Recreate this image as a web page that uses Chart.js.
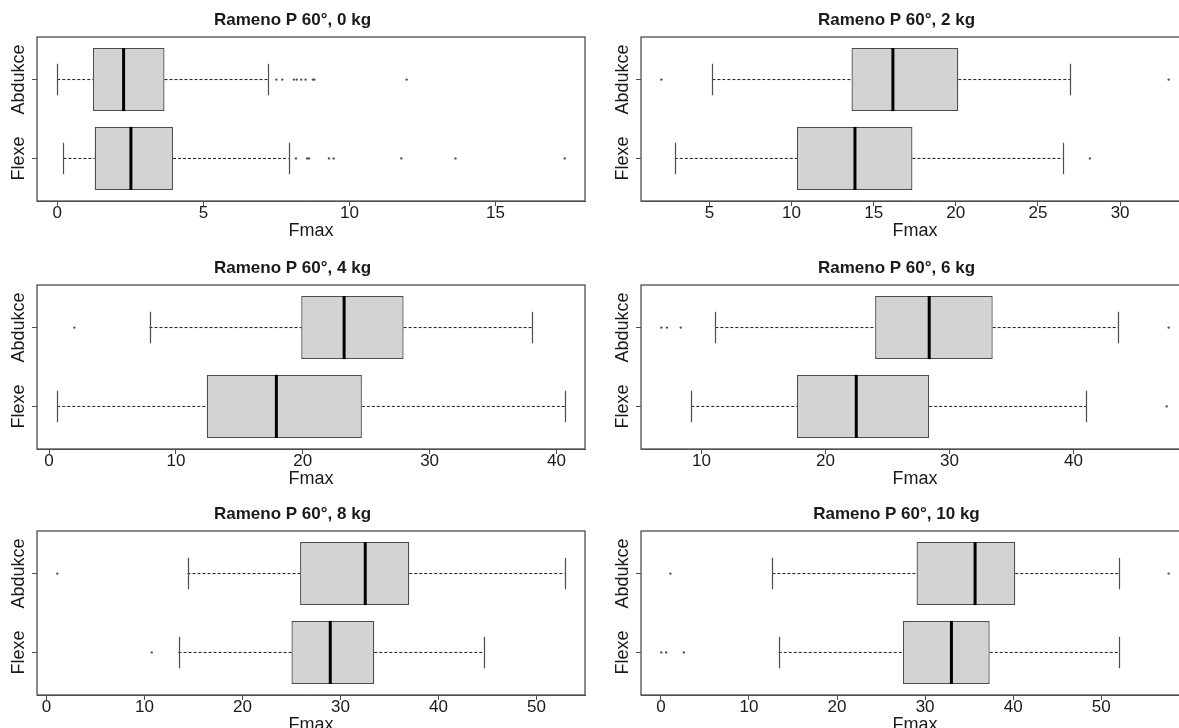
<!DOCTYPE html>
<html lang="cs">
<head>
<meta charset="UTF-8">
<title>Rameno P 60°</title>
<script src="https://cdn.jsdelivr.net/npm/chart.js@4.4.1/dist/chart.umd.min.js"></script>
<style>
  html, body { margin: 0; padding: 0; background: #fff; width: 1179px; height: 728px; overflow: hidden; }
  .panel { position: absolute; width: 590px; height: 246px; }
</style>
</head>
<body>
<div class="panel" style="left:0;top:0"><canvas id="c0" width="590" height="246"></canvas></div>
<div class="panel" style="left:604px;top:0"><canvas id="c1" width="590" height="246"></canvas></div>
<div class="panel" style="left:0;top:248px"><canvas id="c2" width="590" height="246"></canvas></div>
<div class="panel" style="left:604px;top:248px"><canvas id="c3" width="590" height="246"></canvas></div>
<div class="panel" style="left:0;top:494px"><canvas id="c4" width="590" height="246"></canvas></div>
<div class="panel" style="left:604px;top:494px"><canvas id="c5" width="590" height="246"></canvas></div>

<script>
// data: one entry per panel, inner pairs = [Abdukce, Flexe]
const titles = ['Rameno P 60°, 0 kg', 'Rameno P 60°, 2 kg', 'Rameno P 60°, 4 kg',
                'Rameno P 60°, 6 kg', 'Rameno P 60°, 8 kg', 'Rameno P 60°, 10 kg'];
const groups = ['Abdukce', 'Flexe'];

const whiskerLow  = [[0.0, 0.21], [5.18, 2.89], [7.92, 0.65], [11.12, 9.18], [14.4, 13.48], [12.66, 13.38]];
const q1          = [[1.22, 1.28], [13.65, 10.33], [19.88, 12.43], [24.0, 17.7], [25.88, 25.0], [29.03, 27.49]];
const medians     = [[2.27, 2.52], [16.17, 13.86], [23.26, 17.92], [28.36, 22.48], [32.53, 28.96], [35.68, 32.99]];
const q3          = [[3.67, 3.96], [20.15, 17.36], [27.95, 24.66], [33.48, 28.36], [37.02, 33.45], [40.24, 37.34]];
const whiskerHigh = [[7.22, 7.92], [26.97, 26.51], [38.07, 40.65], [43.58, 41.03], [52.88, 44.66], [52.05, 52.05]];
const outliers = [
  [[7.5, 7.7, 8.1, 8.2, 8.35, 8.5, 8.75, 8.8, 11.96], [8.17, 8.55, 8.62, 9.3, 9.46, 11.78, 13.63, 17.37]],
  [[2.07, 32.96], [28.16]],
  [[1.99], []],
  [[6.76, 7.21, 8.33, 47.67], [47.5]],
  [[1.11], [10.75]],
  [[1.07, 57.67], [0.04, 0.6, 2.6]]
];
const tickValues = [[0, 5, 10, 15], [5, 10, 15, 20, 25, 30], [0, 10, 20, 30, 40],
                    [10, 20, 30, 40], [0, 10, 20, 30, 40, 50], [0, 10, 20, 30, 40, 50]];

const FONT = "'Liberation Sans', Arial, sans-serif";
const INK = '#1a1a1a';
const LINE = '#4d4d4d';

// whiskers, caps, medians, outliers, frame and rotated group names, all via the chart scales
const rBoxPlugin = {
  id: 'rbox',
  afterDatasetsDraw(chart) {
    const p = chart.options.plugins.rbox.panel;
    const { ctx, chartArea: a, scales: { x, y } } = chart;
    ctx.save();
    groups.forEach((g, i) => {
      const pos = i + 1;
      const cy = y.getPixelForValue(pos);
      const capT = y.getPixelForValue(pos - 0.2), capB = y.getPixelForValue(pos + 0.2);
      const boxT = y.getPixelForValue(pos - 0.4), boxB = y.getPixelForValue(pos + 0.4);
      // dashed whiskers
      ctx.strokeStyle = INK;
      ctx.lineWidth = 1;
      ctx.setLineDash([3, 2]);
      ctx.beginPath();
      ctx.moveTo(x.getPixelForValue(whiskerLow[p][i]), cy);
      ctx.lineTo(x.getPixelForValue(q1[p][i]), cy);
      ctx.moveTo(x.getPixelForValue(q3[p][i]), cy);
      ctx.lineTo(x.getPixelForValue(whiskerHigh[p][i]), cy);
      ctx.stroke();
      ctx.setLineDash([]);
      // staples
      ctx.strokeStyle = LINE;
      ctx.lineWidth = 1.2;
      ctx.beginPath();
      [whiskerLow[p][i], whiskerHigh[p][i]].forEach(v => {
        const px = Math.round(x.getPixelForValue(v)) + 0.5;
        ctx.moveTo(px, capT);
        ctx.lineTo(px, capB);
      });
      ctx.stroke();
      // median
      ctx.strokeStyle = '#000';
      ctx.lineWidth = 3;
      ctx.beginPath();
      const mx = x.getPixelForValue(medians[p][i]);
      ctx.moveTo(mx, boxT);
      ctx.lineTo(mx, boxB);
      ctx.stroke();
      // outliers
      ctx.fillStyle = '#555';
      outliers[p][i].forEach(v => {
        ctx.beginPath();
        ctx.arc(x.getPixelForValue(v), cy, 1.2, 0, Math.PI * 2);
        ctx.fill();
      });
      // rotated group label
      ctx.save();
      ctx.translate(a.left - 18, cy);
      ctx.rotate(-Math.PI / 2);
      ctx.fillStyle = INK;
      ctx.font = '18px ' + FONT;
      ctx.textAlign = 'center';
      ctx.textBaseline = 'middle';
      ctx.fillText(g, 0, 0);
      ctx.restore();
    });
    // plot frame
    ctx.strokeStyle = LINE;
    ctx.lineWidth = 1.3;
    ctx.strokeRect(a.left, a.top, a.right - a.left, a.bottom - a.top);
    ctx.restore();
  }
};

function makePanel(p) {
  const all = [].concat(whiskerLow[p], whiskerHigh[p], outliers[p][0], outliers[p][1]);
  const lo = Math.min(...all), hi = Math.max(...all);
  const pad = 0.04 * (hi - lo);

  new Chart(document.getElementById('c' + p), {
    type: 'bar',
    data: {
      datasets: [{
        data: groups.map((g, i) => ({ x: [q1[p][i], q3[p][i]], y: i + 1 })),
        backgroundColor: '#d3d3d3',
        borderColor: LINE,
        borderWidth: 1.3,
        borderSkipped: false,
        barPercentage: 0.8,
        categoryPercentage: 1
      }]
    },
    options: {
      responsive: false,
      animation: false,
      indexAxis: 'y',
      layout: { padding: { left: 0, right: 5, top: 0, bottom: 0 } },
      plugins: {
        legend: { display: false },
        tooltip: { enabled: false },
        title: {
          display: true,
          text: titles[p],
          color: INK,
          font: { family: FONT, size: 17, weight: 'bold', lineHeight: 1.2 },
          padding: { top: 10, bottom: 6.6 }
        },
        rbox: { panel: p }
      },
      scales: {
        x: {
          type: 'linear',
          min: lo - pad,
          max: hi + pad,
          afterBuildTicks: s => { s.ticks = tickValues[p].map(v => ({ value: v })); },
          afterFit: s => { s.height = 45; },
          ticks: { color: INK, font: { family: FONT, size: 17 }, padding: -3, maxRotation: 0, autoSkip: false },
          grid: { drawOnChartArea: false, tickLength: 5, color: LINE },
          border: { color: LINE },
          title: { display: true, text: 'Fmax', color: INK, font: { family: FONT, size: 18 }, padding: { top: 0, bottom: 4 } }
        },
        y: {
          type: 'linear',
          min: 0.46,
          max: 2.54,
          reverse: true,
          offset: false,
          afterBuildTicks: s => { s.ticks = groups.map((g, i) => ({ value: i + 1 })); },
          afterFit: s => { s.width = 37; },
          ticks: { display: false },
          grid: { drawOnChartArea: false, offset: false, tickLength: 5, color: LINE },
          border: { display: false }
        }
      }
    },
    plugins: [rBoxPlugin]
  });
}

titles.forEach((t, p) => makePanel(p));
</script>
</body>
</html>
